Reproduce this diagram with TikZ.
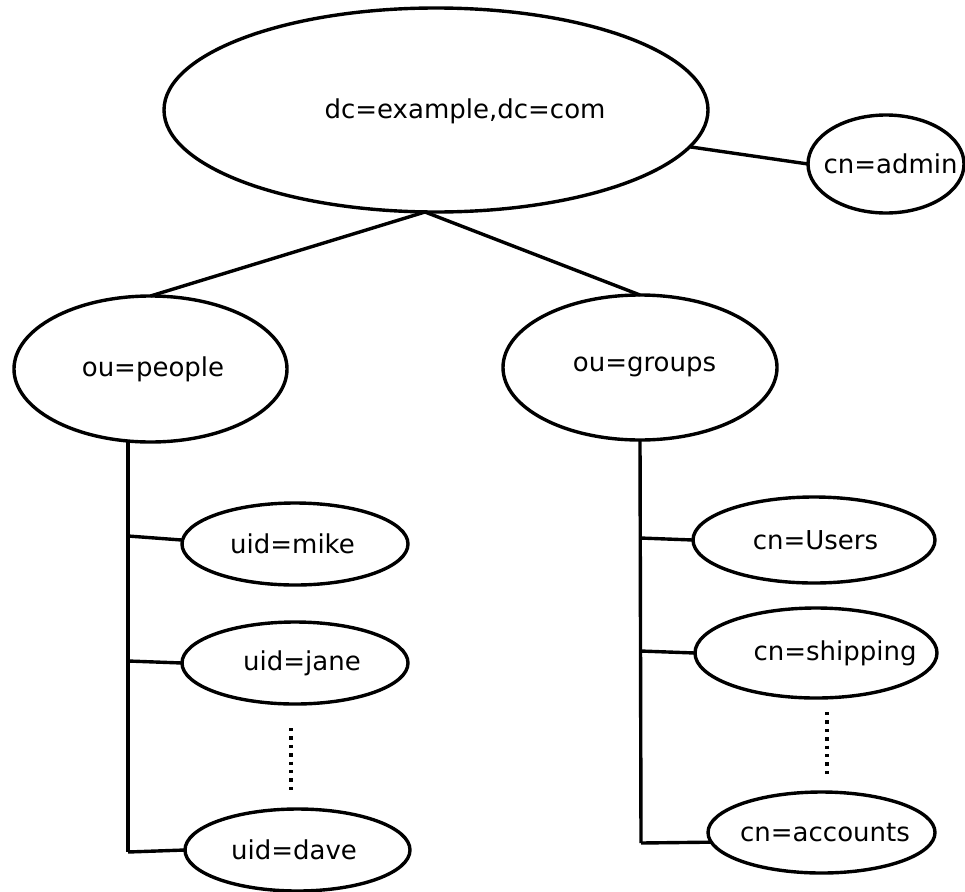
\documentclass[tikz,border=0pt]{standalone}
\usepackage{fontspec}
\setmainfont{DejaVu Sans}
\usetikzlibrary{shapes.geometric,calc}
\begin{document}
\begin{tikzpicture}[x=1pt,y=-1pt,
  ent/.style={ellipse,draw,line width=3.4pt,inner sep=0pt,outer sep=0pt},
  every label/.style={font=\fontsize{26}{30}\selectfont,inner sep=0pt},
  conn/.style={line width=3.4pt},
  dotline/.style={line width=3.6pt,dash pattern=on 3.4pt off 5pt}]
\useasboundingbox (0,0) rectangle (965,891);
% nodes
\node[ent,minimum width=544pt,minimum height=204pt,label={[xshift=29pt,yshift=-1pt]center:dc=example,dc=com}] (root) at (436,110) {};
\node[ent,minimum width=156pt,minimum height=98pt,label={[xshift=4.5pt]center:cn=admin}] (admin) at (886,164) {};
\node[ent,minimum width=273pt,minimum height=146pt,label={[xshift=2.5pt]center:ou=people}] (people) at (150.5,369) {};
\node[ent,minimum width=274pt,minimum height=145pt,label={[xshift=4.5pt,yshift=1pt]center:ou=groups}] (groups) at (640,367.5) {};
\node[ent,minimum width=226pt,minimum height=82pt,label={[xshift=-2.5pt]center:uid=mike}] (mike) at (295,544) {};
\node[ent,minimum width=226pt,minimum height=82pt,label={[xshift=7pt]center:uid=jane}] (jane) at (295,663) {};
\node[ent,minimum width=225pt,minimum height=82pt,label={[xshift=-3.5pt]center:uid=dave}] (dave) at (297.5,850) {};
\node[ent,minimum width=242pt,minimum height=86pt,label={[xshift=1.5pt]center:cn=Users}] (users) at (814,540) {};
\node[ent,minimum width=242pt,minimum height=90pt,label={[xshift=19pt]center:cn=shipping}] (shipping) at (816,653) {};
\node[ent,minimum width=227pt,minimum height=81pt,label={[xshift=3.5pt]center:cn=accounts}] (accounts) at (821.5,832.5) {};
% trunk coordinates
\coordinate (ptop) at (128,441);
\coordinate (pm) at (128,536);
\coordinate (pj) at (128,661);
\coordinate (pbot) at (128,852);
\coordinate (gtop) at (640,440);
\coordinate (gu) at (640,538);
\coordinate (gs) at (640,651);
\coordinate (gbot) at (641,843);
\coordinate (rootb) at (425,212);
% connectors
\draw[conn] (rootb) -- (people.north);
\draw[conn] (rootb) -- (groups.north);
\draw[conn] (root) -- (admin.west);
\draw[conn] (ptop) -- (pbot);
\draw[conn] (pm) -- (mike.178);
\draw[conn] (pj) -- (jane.west);
\draw[conn] (pbot) -- (dave.west);
\draw[conn] (gtop) -- (gbot);
\draw[conn] (gu) -- (users.west);
\draw[conn] (gs) -- (shipping.west);
\draw[conn] (gbot) -- (accounts.185);
% ellipsis dots
\coordinate (d1a) at (291,728);
\coordinate (d1b) at (291,790);
\coordinate (d2a) at (827,712);
\coordinate (d2b) at (827,774);
\draw[dotline] (d1a) -- (d1b);
\draw[dotline] (d2a) -- (d2b);
\end{tikzpicture}
\end{document}
